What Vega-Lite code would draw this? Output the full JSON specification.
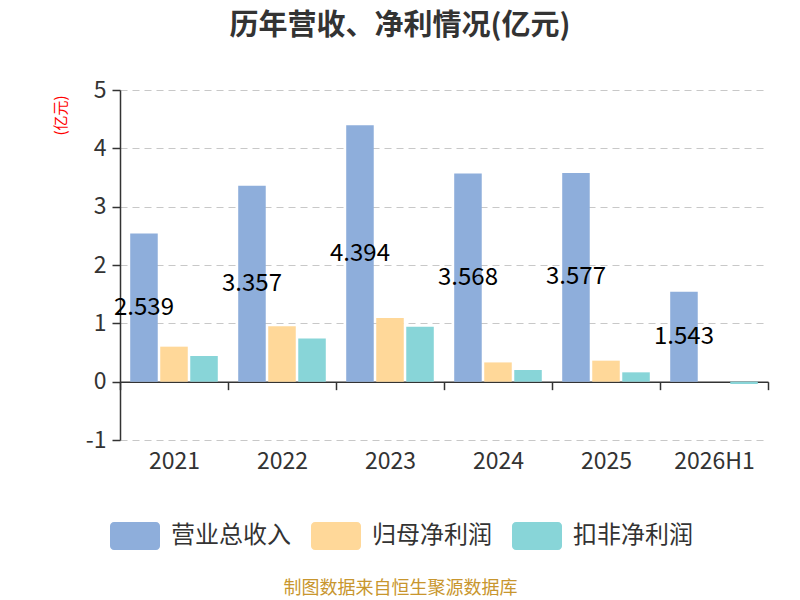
{
  "$schema": "https://vega.github.io/schema/vega-lite/v6.json",
  "width": 648,
  "height": 350,
  "autosize": "none",
  "padding": {"left": 120, "top": 90, "right": 32, "bottom": 160},
  "background": "white",
  "title": {
    "text": "历年营收、净利情况(亿元)",
    "font": "Noto Sans CJK SC",
    "fontSize": 29,
    "fontWeight": "bold",
    "color": "#333333",
    "anchor": "middle",
    "dx": -44,
    "offset": 38
  },
  "data": {
    "values": [
      {"year": "2021", "metric": "营业总收入", "value": 2.539},
      {"year": "2021", "metric": "归母净利润", "value": 0.6},
      {"year": "2021", "metric": "扣非净利润", "value": 0.44},
      {"year": "2022", "metric": "营业总收入", "value": 3.357},
      {"year": "2022", "metric": "归母净利润", "value": 0.95},
      {"year": "2022", "metric": "扣非净利润", "value": 0.74},
      {"year": "2023", "metric": "营业总收入", "value": 4.394},
      {"year": "2023", "metric": "归母净利润", "value": 1.09},
      {"year": "2023", "metric": "扣非净利润", "value": 0.94},
      {"year": "2024", "metric": "营业总收入", "value": 3.568},
      {"year": "2024", "metric": "归母净利润", "value": 0.33},
      {"year": "2024", "metric": "扣非净利润", "value": 0.2},
      {"year": "2025", "metric": "营业总收入", "value": 3.577},
      {"year": "2025", "metric": "归母净利润", "value": 0.36},
      {"year": "2025", "metric": "扣非净利润", "value": 0.16},
      {"year": "2026H1", "metric": "营业总收入", "value": 1.543},
      {"year": "2026H1", "metric": "扣非净利润", "value": -0.04}
    ]
  },
  "encoding": {
    "x": {
      "field": "year",
      "type": "nominal",
      "sort": null,
      "scale": {"paddingInner": 0, "paddingOuter": 0},
      "axis": {
        "orient": "bottom",
        "offset": -58.33,
        "labelAngle": 0,
        "labelFont": "Noto Sans CJK SC",
        "labelFontSize": 23,
        "labelColor": "#333333",
        "labelPadding": 61,
        "domain": true,
        "domainColor": "#333333",
        "domainWidth": 1.5,
        "ticks": true,
        "tickBand": "extent",
        "tickSize": 8,
        "tickColor": "#333333",
        "tickWidth": 1.5,
        "grid": false,
        "title": "制图数据来自恒生聚源数据库",
        "titleFont": "Noto Sans CJK SC",
        "titleFontSize": 18,
        "titleFontWeight": "normal",
        "titleColor": "#c8962e",
        "titleX": 280,
        "titleY": 207,
        "titleAlign": "center",
        "titleBaseline": "middle"
      }
    },
    "xOffset": {
      "field": "metric",
      "type": "nominal",
      "scale": {"domain": ["营业总收入", "归母净利润", "扣非净利润"], "paddingInner": 0.083, "paddingOuter": 0.34}
    }
  },
  "layer": [
    {
      "mark": {"type": "bar"},
      "encoding": {
        "y": {
          "field": "value",
          "type": "quantitative",
          "scale": {"domain": [-1, 5], "nice": false, "zero": false},
          "axis": {
            "values": [-1, 0, 1, 2, 3, 4, 5],
            "labelExpr": "'' + datum.value",
            "labelFont": "Noto Sans CJK SC",
            "labelFontSize": 23,
            "labelColor": "#333333",
            "labelPadding": 6,
            "domain": true,
            "domainColor": "#333333",
            "domainWidth": 1.5,
            "ticks": true,
            "tickSize": 8,
            "tickColor": "#333333",
            "tickWidth": 1.5,
            "grid": true,
            "gridColor": "#c8c8c8",
            "gridDash": [7, 5],
            "gridWidth": 1.2,
            "title": "(亿元)",
            "titleFont": "Noto Sans CJK SC",
            "titleFontSize": 15,
            "titleFontWeight": "normal",
            "titleColor": "#ff0000",
            "titleAngle": -90,
            "titleX": -60,
            "titleY": 25,
            "titleAlign": "center",
            "titleBaseline": "middle"
          }
        },
        "color": {
          "field": "metric",
          "type": "nominal",
          "scale": {
            "domain": ["营业总收入", "归母净利润", "扣非净利润"],
            "range": ["#8eaedb", "#ffd899", "#88d5d8"]
          },
          "legend": {
            "title": null,
            "orient": "none",
            "direction": "horizontal",
            "legendX": -10,
            "legendY": 421,
            "symbolType": "M-0.84,-0.56L0.84,-0.56A0.16,0.16 0 0 1 1,-0.4L1,0.4A0.16,0.16 0 0 1 0.84,0.56L-0.84,0.56A0.16,0.16 0 0 1 -1,0.4L-1,-0.4A0.16,0.16 0 0 1 -0.84,-0.56Z",
            "symbolSize": 2500,
            "symbolStrokeWidth": 0,
            "symbolOpacity": 1,
            "labelFont": "Noto Sans CJK SC",
            "labelFontSize": 24,
            "labelColor": "#333333",
            "labelOffset": 11,
            "columnPadding": 20
          }
        }
      }
    },
    {
      "transform": [{"filter": "datum.metric === '营业总收入'"}],
      "mark": {
        "type": "text",
        "font": "Noto Sans CJK SC",
        "fontSize": 24,
        "color": "#000000",
        "align": "center",
        "baseline": "middle"
      },
      "encoding": {
        "y": {
          "field": "value",
          "type": "quantitative",
          "scale": {"domain": [-2, 10], "nice": false, "zero": false},
          "axis": null
        },
        "text": {"field": "value", "type": "quantitative", "format": ".3f"}
      }
    }
  ],
  "resolve": {"scale": {"y": "independent"}},
  "config": {
    "view": {"stroke": null},
    "font": "Noto Sans CJK SC"
  }
}
